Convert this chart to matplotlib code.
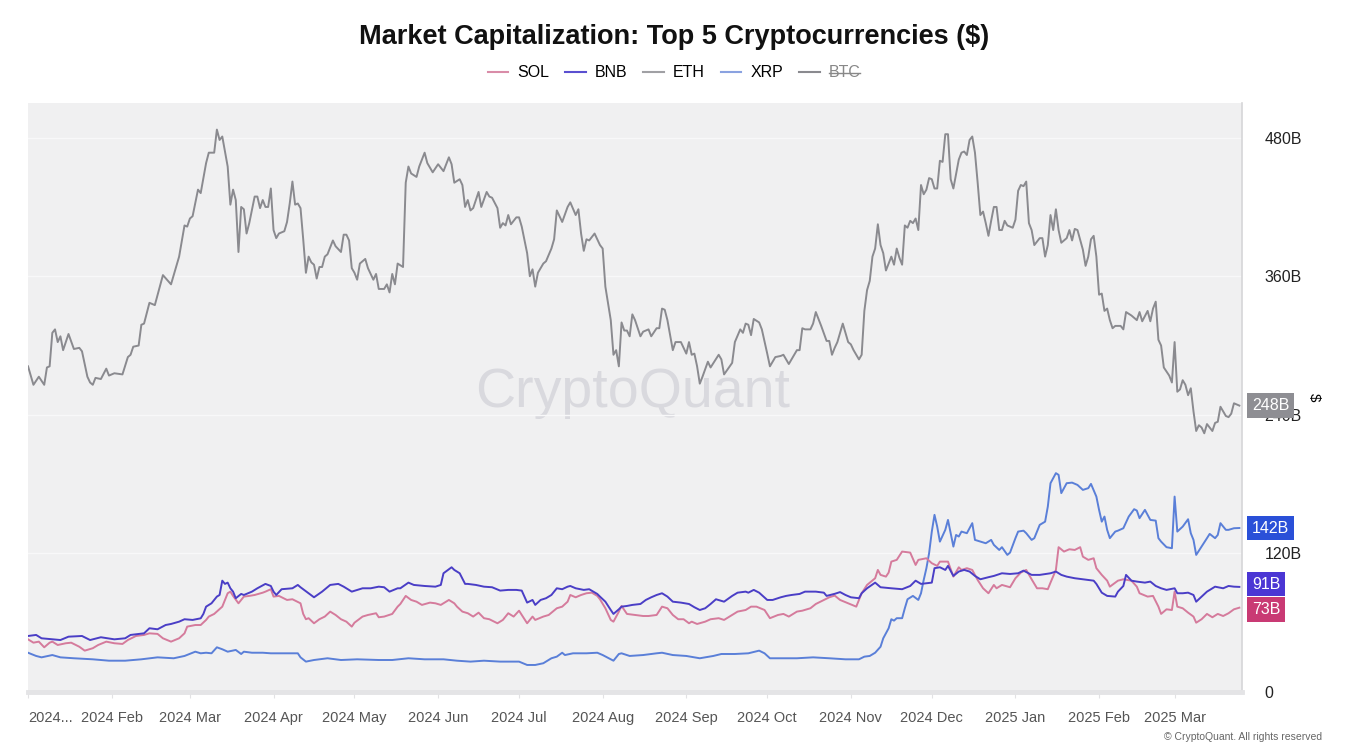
import numpy as np
import pandas as pd
import matplotlib.pyplot as plt
from matplotlib.lines import Line2D

plt.rcParams['font.family'] = ['Liberation Sans', 'DejaVu Sans']

# market caps in billions of $, days counted from 2024-01-01
eth_day = [0, 2, 4, 6, 7, 8, 9, 10, 11, 12, 13, 15, 17, 19, 20, 22, 23, 24, 25, 27, 29, 30, 32, 35, 37, 38, 39, 41,
           42, 43, 45, 47, 50, 53, 56, 58, 59, 60, 61, 63, 64, 66, 67, 69, 70, 71, 72, 74, 75, 76, 77, 78, 79, 80,
           81, 82, 84, 85, 86, 87, 88, 89, 90, 91, 92, 93, 95, 96, 97, 98, 99, 100, 101, 102, 103, 104, 105, 106,
           107, 108, 109, 110, 111, 113, 114, 116, 117, 118, 119, 120, 121, 122, 123, 125, 126, 128, 129, 130, 132,
           133, 134, 135, 136, 137, 139, 140, 141, 142, 144, 145, 147, 148, 150, 152, 154, 156, 157, 158, 160, 161,
           162, 163, 164, 165, 167, 168, 170, 171, 172, 174, 175, 176, 177, 178, 179, 181, 182, 183, 185, 186, 187,
           188, 189, 191, 192, 194, 195, 196, 198, 200, 201, 203, 204, 205, 206, 207, 208, 210, 212, 213, 214, 216,
           217, 218, 219, 220, 221, 222, 223, 224, 225, 227, 228, 230, 231, 233, 234, 235, 236, 237, 239, 240, 242,
           244, 245, 246, 247, 248, 249, 250, 252, 253, 256, 257, 258, 261, 262, 264, 265, 266, 267, 268, 269, 271,
           272, 274, 275, 277, 279, 280, 282, 283, 285, 286, 287, 288, 290, 291, 292, 294, 296, 297, 298, 299, 300,
           302, 304, 305, 306, 308, 309, 310, 311, 312, 313, 314, 315, 316, 317, 318, 319, 320, 321, 322, 323, 324,
           325, 326, 327, 328, 329, 330, 331, 332, 333, 334, 335, 336, 337, 338, 339, 340, 341, 342, 343, 345, 346,
           347, 348, 349, 350, 351, 352, 353, 354, 355, 356, 357, 358, 359, 360, 361, 362, 363, 365, 366, 367, 368,
           369, 370, 371, 372, 373, 375, 376, 377, 378, 379, 380, 381, 382, 383, 385, 386, 387, 388, 389, 391, 392,
           393, 394, 395, 396, 397, 398, 399, 400, 401, 402, 403, 405, 406, 407, 409, 411, 412, 413, 415, 416, 417,
           418, 419, 420, 421, 423, 424, 425, 426, 427, 428, 429, 430, 431, 432, 433, 434, 435, 436, 437, 439, 440,
           441, 442, 444, 445, 446, 447, 449]
eth_cap = [282, 266, 273, 266, 281, 282, 311, 314, 303, 308, 296, 310, 297, 298, 295, 273, 268, 266, 272, 271, 280,
           274, 276, 275, 290, 292, 299, 300, 318, 319, 337, 335, 361, 353, 377, 404, 403, 410, 412, 435, 432, 458,
           467, 467, 487, 478, 481, 455, 422, 435, 426, 381, 420, 418, 397, 406, 429, 429, 419, 426, 420, 420, 436,
           400, 393, 397, 399, 407, 423, 442, 422, 423, 419, 392, 363, 377, 372, 370, 358, 368, 368, 377, 379, 391,
           386, 381, 396, 396, 391, 367, 363, 357, 371, 375, 367, 357, 362, 349, 349, 353, 346, 362, 353, 371, 368,
           441, 455, 449, 446, 455, 467, 458, 450, 457, 451, 463, 457, 441, 444, 439, 420, 426, 417, 419, 433, 420,
           433, 429, 428, 419, 402, 406, 404, 413, 405, 411, 411, 403, 380, 360, 366, 351, 363, 371, 373, 384, 392,
           417, 407, 420, 424, 413, 418, 397, 382, 392, 391, 397, 387, 384, 351, 322, 292, 296, 282, 320, 313, 313,
           308, 327, 322, 308, 312, 314, 308, 315, 315, 332, 331, 322, 296, 303, 303, 293, 303, 292, 293, 282, 267,
           273, 286, 281, 292, 288, 275, 285, 303, 314, 311, 319, 318, 309, 323, 320, 314, 293, 282, 290, 291, 292,
           284, 288, 296, 296, 315, 314, 314, 319, 329, 317, 304, 304, 292, 298, 303, 319, 303, 301, 296, 288, 292,
           330, 348, 356, 377, 384, 405, 387, 380, 365, 371, 377, 370, 384, 376, 370, 404, 402, 408, 406, 410, 400,
           439, 431, 435, 445, 444, 436, 436, 460, 459, 483, 483, 444, 436, 461, 467, 468, 465, 478, 481, 467, 441,
           413, 416, 406, 395, 408, 420, 420, 400, 400, 408, 404, 402, 409, 434, 439, 438, 442, 406, 400, 387, 393,
           393, 377, 387, 413, 400, 418, 400, 389, 393, 400, 391, 401, 400, 383, 369, 377, 392, 395, 377, 344, 345,
           330, 332, 322, 315, 317, 317, 314, 329, 326, 322, 329, 321, 330, 321, 332, 338, 305, 300, 281, 274, 268,
           303, 260, 262, 270, 266, 257, 263, 243, 226, 231, 229, 224, 232, 226, 233, 234, 247, 239, 238, 241, 250,
           248]

xrp_day = [0, 3, 5, 9, 12, 17, 24, 30, 36, 42, 48, 54, 58, 62, 64, 66, 68, 70, 72, 74, 77, 79, 80, 83, 87, 90, 95,
           100, 101, 103, 106, 111, 116, 122, 130, 135, 141, 147, 154, 159, 164, 169, 175, 182, 185, 188, 191, 194,
           196, 198, 199, 202, 207, 211, 213, 216, 217, 219, 220, 223, 228, 233, 235, 239, 244, 249, 254, 257, 262,
           267, 271, 273, 275, 280, 285, 291, 297, 303, 308, 310, 312, 314, 316, 317, 319, 320, 321, 322, 324, 325,
           326, 328, 330, 331, 332, 333, 334, 335, 336, 337, 338, 340, 341, 342, 343, 344, 345, 346, 348, 349, 350,
           351, 353, 355, 357, 358, 360, 361, 363, 364, 366, 367, 369, 370, 372, 373, 374, 375, 377, 378, 379, 381,
           382, 383, 385, 387, 389, 391, 393, 394, 396, 397, 398, 399, 400, 401, 403, 404, 406, 408, 410, 411, 412,
           414, 416, 418, 419, 420, 422, 424, 425, 426, 428, 430, 431, 432, 433, 435, 437, 438, 440, 441, 442, 444,
           445, 447, 449]
xrp_cap = [34, 31.2, 30, 32, 30, 29.2, 28.3, 27.1, 27.1, 28.3, 30, 29.2, 31.2, 34.9, 33.5, 34, 33.5, 38.7, 37, 34.9,
           36.4, 32.9, 34.9, 34, 34, 33.5, 33.5, 33.5, 30, 26.3, 27.7, 29.2, 27.7, 28.3, 27.7, 27.7, 29.2, 28.3, 28.3,
           27.1, 26.3, 27.1, 26.3, 26.3, 23.4, 23.4, 24.9, 29.2, 30.6, 34, 32, 33.5, 33.5, 34, 32, 28.3, 27.1, 32.9,
           33.5, 31.2, 32, 33.5, 34, 32, 31.2, 29.2, 31.2, 32.9, 32.9, 33.5, 35.8, 33.5, 29.2, 29.2, 29.2, 30, 29.2,
           28.3, 28.3, 30.6, 31.2, 34, 39.2, 46.5, 55.2, 63, 61.8, 63.9, 63.9, 72.5, 80.3, 83.2, 79.7, 85.5, 97, 107.2,
           120.2, 138.9, 153.4, 143.2, 130.2, 140.4, 149, 137.5, 125.9, 136, 134.6, 138.9, 137.5, 141.8, 146.2, 131.7,
           130.2, 128.8, 131.7, 127.4, 123, 125.4, 118.7, 120.7, 133.2, 138.9, 139.7, 137.5, 131.7, 133.2, 138.9,
           144.7, 147.5, 160.5, 180.8, 189.5, 188, 172.2, 180.8, 181.3, 179.3, 175, 176.5, 180.2, 169.2, 157.7, 147.5,
           151.9, 140.4, 133.2, 138.9, 139.7, 141.8, 151.9, 158.3, 157.1, 150.5, 157.7, 149, 148.4, 133.2, 130.2,
           125.4, 124.5, 169.2, 138.9, 143.2, 149.6, 137.5, 131.7, 118.7, 125.9, 133.2, 136.9, 133.2, 136, 146.2,
           140.4, 140.4, 141.8, 142]

bnb_day = [0, 3, 5, 9, 12, 15, 20, 23, 27, 32, 36, 38, 43, 45, 48, 51, 53, 56, 58, 61, 64, 65, 66, 68, 70, 71, 72,
           73, 74, 75, 76, 77, 79, 80, 83, 85, 88, 90, 91, 92, 94, 98, 100, 101, 104, 106, 109, 112, 115, 117, 120,
           124, 127, 130, 132, 134, 137, 138, 141, 143, 147, 151, 153, 154, 157, 158, 160, 162, 163, 166, 169, 172,
           175, 178, 181, 183, 184, 185, 187, 188, 190, 192, 194, 196, 198, 200, 201, 203, 206, 208, 211, 212, 214,
           216, 217, 219, 220, 222, 224, 227, 229, 231, 233, 235, 237, 239, 242, 245, 247, 249, 251, 253, 255, 258,
           261, 263, 266, 267, 269, 271, 274, 276, 279, 281, 283, 286, 288, 292, 295, 296, 299, 301, 303, 305, 308,
           309, 311, 314, 316, 320, 324, 327, 329, 331, 335, 336, 338, 340, 341, 343, 345, 347, 349, 351, 353, 356,
           358, 361, 364, 367, 369, 372, 375, 379, 381, 383, 385, 388, 391, 395, 396, 398, 400, 403, 404, 406, 407,
           409, 411, 414, 416, 418, 420, 422, 425, 426, 428, 430, 432, 433, 435, 437, 440, 443, 445, 447, 449]
bnb_cap = [48.5, 49.4, 46.5, 45.6, 45, 47.9, 48.5, 45, 47.4, 45.6, 46.5, 49.4, 50.8, 55.2, 54.3, 58, 58.9, 60.9, 63,
           62.4, 63.8, 67.6, 73.9, 76.8, 82.6, 84, 96.4, 93.6, 94.7, 89.8, 86.9, 81.2, 84.9, 84, 86.9, 89.8, 93.6,
           91.8, 86.9, 84, 89, 89.8, 92.7, 90.7, 85.5, 82, 86.9, 92.7, 93.6, 91.2, 86.9, 89.8, 89.8, 91.2, 90.7, 86.9,
           89.8, 89.8, 94.7, 92.7, 91.8, 91.2, 92.7, 102.8, 108, 105.7, 102.8, 93.6, 93.6, 92.7, 91.2, 90.7, 87.8,
           88.4, 88.4, 87.8, 82.6, 77.4, 79.7, 75.4, 79.7, 81.2, 84, 89.8, 89, 91.2, 91.8, 89.8, 88.4, 89, 84.9, 82.6,
           78.2, 71, 67.6, 71.6, 73.9, 74.5, 75.4, 76.2, 79.7, 82, 84, 85.5, 82.6, 78.2, 77.4, 76.2, 73.4, 71, 72.5,
           76.2, 80.3, 78.2, 83.2, 86, 86.9, 86, 88.4, 86, 79.7, 79.7, 82, 83.2, 84, 84.9, 86.9, 86.9, 86, 83.2, 85,
           86.5, 84, 82, 81.2, 85.5, 89.8, 94.7, 90.7, 89.8, 89, 91.8, 96.4, 93.6, 94.7, 107.2, 108, 105.7, 109.2,
           100.5, 104.3, 105.7, 104.3, 100.5, 97.6, 99.4, 100.5, 102.8, 102.2, 102.8, 105.1, 101.4, 101.4, 102.8,
           104.3, 101.4, 99.9, 98.5, 97.6, 96.4, 93.6, 86, 83.2, 82.6, 86.9, 91.8, 101.4, 96.4, 95.6, 94.7, 95.6,
           91.8, 89.8, 88.4, 89.8, 85.5, 85.5, 86, 84, 78.2, 82.6, 86.9, 91.2, 89.8, 91.8, 91.2, 91]

sol_day = [0, 2, 4, 6, 8, 9, 11, 14, 16, 19, 21, 24, 26, 29, 32, 35, 37, 40, 43, 45, 48, 50, 53, 56, 58, 59, 62, 64,
           66, 67, 69, 72, 74, 75, 76, 78, 80, 82, 84, 87, 88, 90, 91, 93, 96, 98, 101, 102, 103, 104, 106, 108, 110,
           112, 114, 116, 118, 120, 121, 124, 126, 129, 130, 132, 135, 137, 138, 140, 142, 144, 146, 149, 151, 153,
           156, 158, 159, 161, 163, 165, 167, 169, 171, 174, 176, 178, 180, 182, 185, 187, 188, 191, 193, 196, 198,
           200, 201, 203, 205, 207, 209, 211, 212, 214, 216, 217, 219, 220, 222, 225, 228, 230, 233, 235, 237, 239,
           241, 243, 245, 246, 248, 251, 253, 256, 258, 261, 263, 266, 268, 270, 273, 275, 278, 280, 282, 285, 287,
           290, 292, 295, 297, 299, 301, 304, 307, 309, 311, 314, 315, 316, 318, 319, 320, 322, 324, 327, 329, 330,
           333, 335, 337, 338, 341, 343, 345, 346, 348, 350, 352, 354, 356, 358, 359, 361, 364, 366, 368, 370, 372,
           374, 376, 378, 379, 381, 382, 384, 386, 388, 390, 391, 393, 395, 396, 398, 400, 401, 404, 406, 409, 411,
           412, 415, 417, 419, 420, 422, 424, 425, 426, 428, 430, 432, 433, 435, 437, 439, 441, 443, 445, 447, 449]
sol_cap = [45.6, 42.7, 43.6, 38.7, 42.7, 43.6, 40.7, 42.2, 42.7, 39.2, 35.8, 37.9, 40.7, 43.6, 42.2, 41.6, 45, 48.5,
           49.4, 50.8, 50.3, 46.5, 43.6, 46.5, 50.8, 56.6, 58, 58, 62.4, 65.3, 67.6, 73.9, 85.5, 86.9, 83.2, 76.8,
           82.6, 83.2, 84, 86, 86.9, 89, 82.6, 83.2, 79.7, 80.3, 76.8, 67.6, 63, 63.9, 59.5, 63, 65.3, 69.6, 66.7,
           63, 60.9, 56.6, 60, 65.3, 66.7, 68.2, 64.7, 65.3, 67.6, 73.9, 76.2, 83.2, 79.7, 78.2, 75.4, 77.4, 76.8,
           75.4, 79.7, 76.8, 73.9, 69.6, 68.2, 65.3, 68.7, 63.9, 63, 59.5, 62.4, 68.2, 65.3, 70.4, 59.5, 65.3, 62.4,
           65.3, 66.7, 72.5, 73.9, 78.2, 84, 82, 84, 85.5, 86, 83.2, 80.3, 72.5, 62.4, 60.9, 69.6, 74.5, 67.6, 66.7,
           65.8, 65.8, 66.7, 73.9, 72.5, 66.7, 63, 63, 59.5, 60.9, 58.9, 60.9, 63, 63.9, 62.4, 66.7, 69.6, 71, 73.9,
           73.9, 71, 63.9, 66.7, 67.6, 65.3, 69.6, 70.4, 72.5, 76.2, 79.7, 82, 83.5, 79.7, 76.8, 73.9, 85.5, 92.7,
           98.5, 105.7, 101.4, 99.9, 103.4, 112.9, 114.4, 121.6, 120.7, 110, 114.4, 115.8, 111.5, 109.2, 112.9,
           112.9, 99.9, 108, 105.7, 107.2, 105.7, 97, 89.8, 85.5, 92.7, 89.8, 92.7, 90.7, 98.5, 103.4, 105.7, 97.6,
           89.8, 89.8, 89, 94.7, 105.7, 125.4, 121.6, 123.6, 123, 125.4, 117.2, 114.4, 115.8, 107.2, 101.4, 96.4,
           91.2, 96.4, 97.6, 96.4, 91.2, 85.5, 82.6, 83.2, 73.9, 67.6, 71.6, 71, 86.9, 73.9, 72.5, 68.7, 65.3, 60,
           63, 67.6, 64.7, 67.6, 65.8, 68.2, 71.6, 73]

tick_months = pd.date_range('2024-01-01', '2025-03-01', freq='MS')
tick_labels = ['2024...', '2024 Feb', '2024 Mar', '2024 Apr', '2024 May', '2024 Jun', '2024 Jul', '2024 Aug',
               '2024 Sep', '2024 Oct', '2024 Nov', '2024 Dec', '2025 Jan', '2025 Feb', '2025 Mar']

start = pd.Timestamp('2024-01-01')


def to_dates(days):
    return start + pd.to_timedelta(days, unit='D')


# name, days, caps, line colour, value box colour
series = [
    ('ETH', eth_day, eth_cap, '#8a8a8f', '#8e8e93'),
    ('XRP', xrp_day, xrp_cap, '#5a7fd8', '#2a50d8'),
    ('SOL', sol_day, sol_cap, '#d57b9c', '#c93a74'),
    ('BNB', bnb_day, bnb_cap, '#4a3ec6', '#4b36d4'),
]

fig = plt.figure(figsize=(13.48, 7.52), dpi=100)
ax = fig.add_axes([0.0208, 0.0798, 0.9006, 0.7832])
ax.set_facecolor('#f0f0f1')

for name, d, v, col, _ in series:
    ax.plot(to_dates(d), v, color=col, lw=1.4, solid_joinstyle='round', zorder=3)

ax.set_xlim(start, pd.Timestamp('2025-03-26'))
ax.set_ylim(0, 510)

ax.yaxis.tick_right()
ax.yaxis.set_label_position('right')
ax.set_yticks([0, 120, 240, 360, 480])
ax.set_yticklabels(['0', '120B', '240B', '360B', '480B'])
ax.tick_params(axis='y', length=0, pad=16, labelsize=11.5, labelcolor='#222222')
ax.set_ylabel('$', rotation=270, fontsize=11, labelpad=14)

ax.set_xticks(tick_months)
ax.set_xticklabels(tick_labels)
ax.get_xticklabels()[0].set_horizontalalignment('left')
ax.tick_params(axis='x', length=4, color='#e2e2e4', pad=10, labelsize=10.5, labelcolor='#555555')

ax.grid(axis='y', color='#f8f8f9', lw=1)
for s in ['top', 'left']:
    ax.spines[s].set_visible(False)
ax.spines['bottom'].set_color('#e4e4e6')
ax.spines['bottom'].set_linewidth(3.5)
ax.spines['right'].set_color('#d6d6d8')
ax.spines['right'].set_linewidth(1.2)

ax.text(0.498, 0.508, 'CryptoQuant', transform=ax.transAxes, ha='center', va='center',
        fontsize=40, color='#d9d9de', zorder=1)

# latest value boxes on the right
nudge = {'ETH': 0, 'XRP': 0, 'BNB': 2, 'SOL': -1.5}
for name, d, v, _, box in series:
    ax.annotate(f'{v[-1]:.0f}B', xy=(1, v[-1]), xycoords=('axes fraction', 'data'),
                xytext=(7, nudge[name]), textcoords='offset points', ha='left', va='center',
                fontsize=11.5, color='white', annotation_clip=False, zorder=5,
                bbox=dict(boxstyle='square,pad=0.3', fc=box, ec='none'))

fig.text(0.5, 0.951, 'Market Capitalization: Top 5 Cryptocurrencies ($)', ha='center', va='center',
         fontsize=19.5, fontweight='bold', color='#111111')

legend_names = ['SOL', 'BNB', 'ETH', 'XRP', 'BTC']
legend_cols = ['#d98ca8', '#5a4fd0', '#a0a0a4', '#8aa2e0', '#8a8a8f']
handles = [Line2D([], [], color=c, lw=1.5) for c in legend_cols]
leg = fig.legend(handles, legend_names, loc='center', bbox_to_anchor=(0.5, 0.903), ncol=5, frameon=False,
                 fontsize=11.5, handlelength=1.3, handletextpad=0.55, columnspacing=1.0)
btc = leg.get_texts()[-1]
btc.set_color('#888888')

fig.canvas.draw()
bb = btc.get_window_extent()
ymid = (bb.y0 + bb.y1) / 2
fig.add_artist(Line2D([bb.x0 / fig.bbox.width, bb.x1 / fig.bbox.width],
                      [ymid / fig.bbox.height, ymid / fig.bbox.height],
                      color='#888888', lw=1, transform=fig.transFigure))

fig.text(0.981, 0.02, '© CryptoQuant. All rights reserved', ha='right', va='center',
         fontsize=7.5, color='#666666')

plt.savefig('out.png', dpi=100)
